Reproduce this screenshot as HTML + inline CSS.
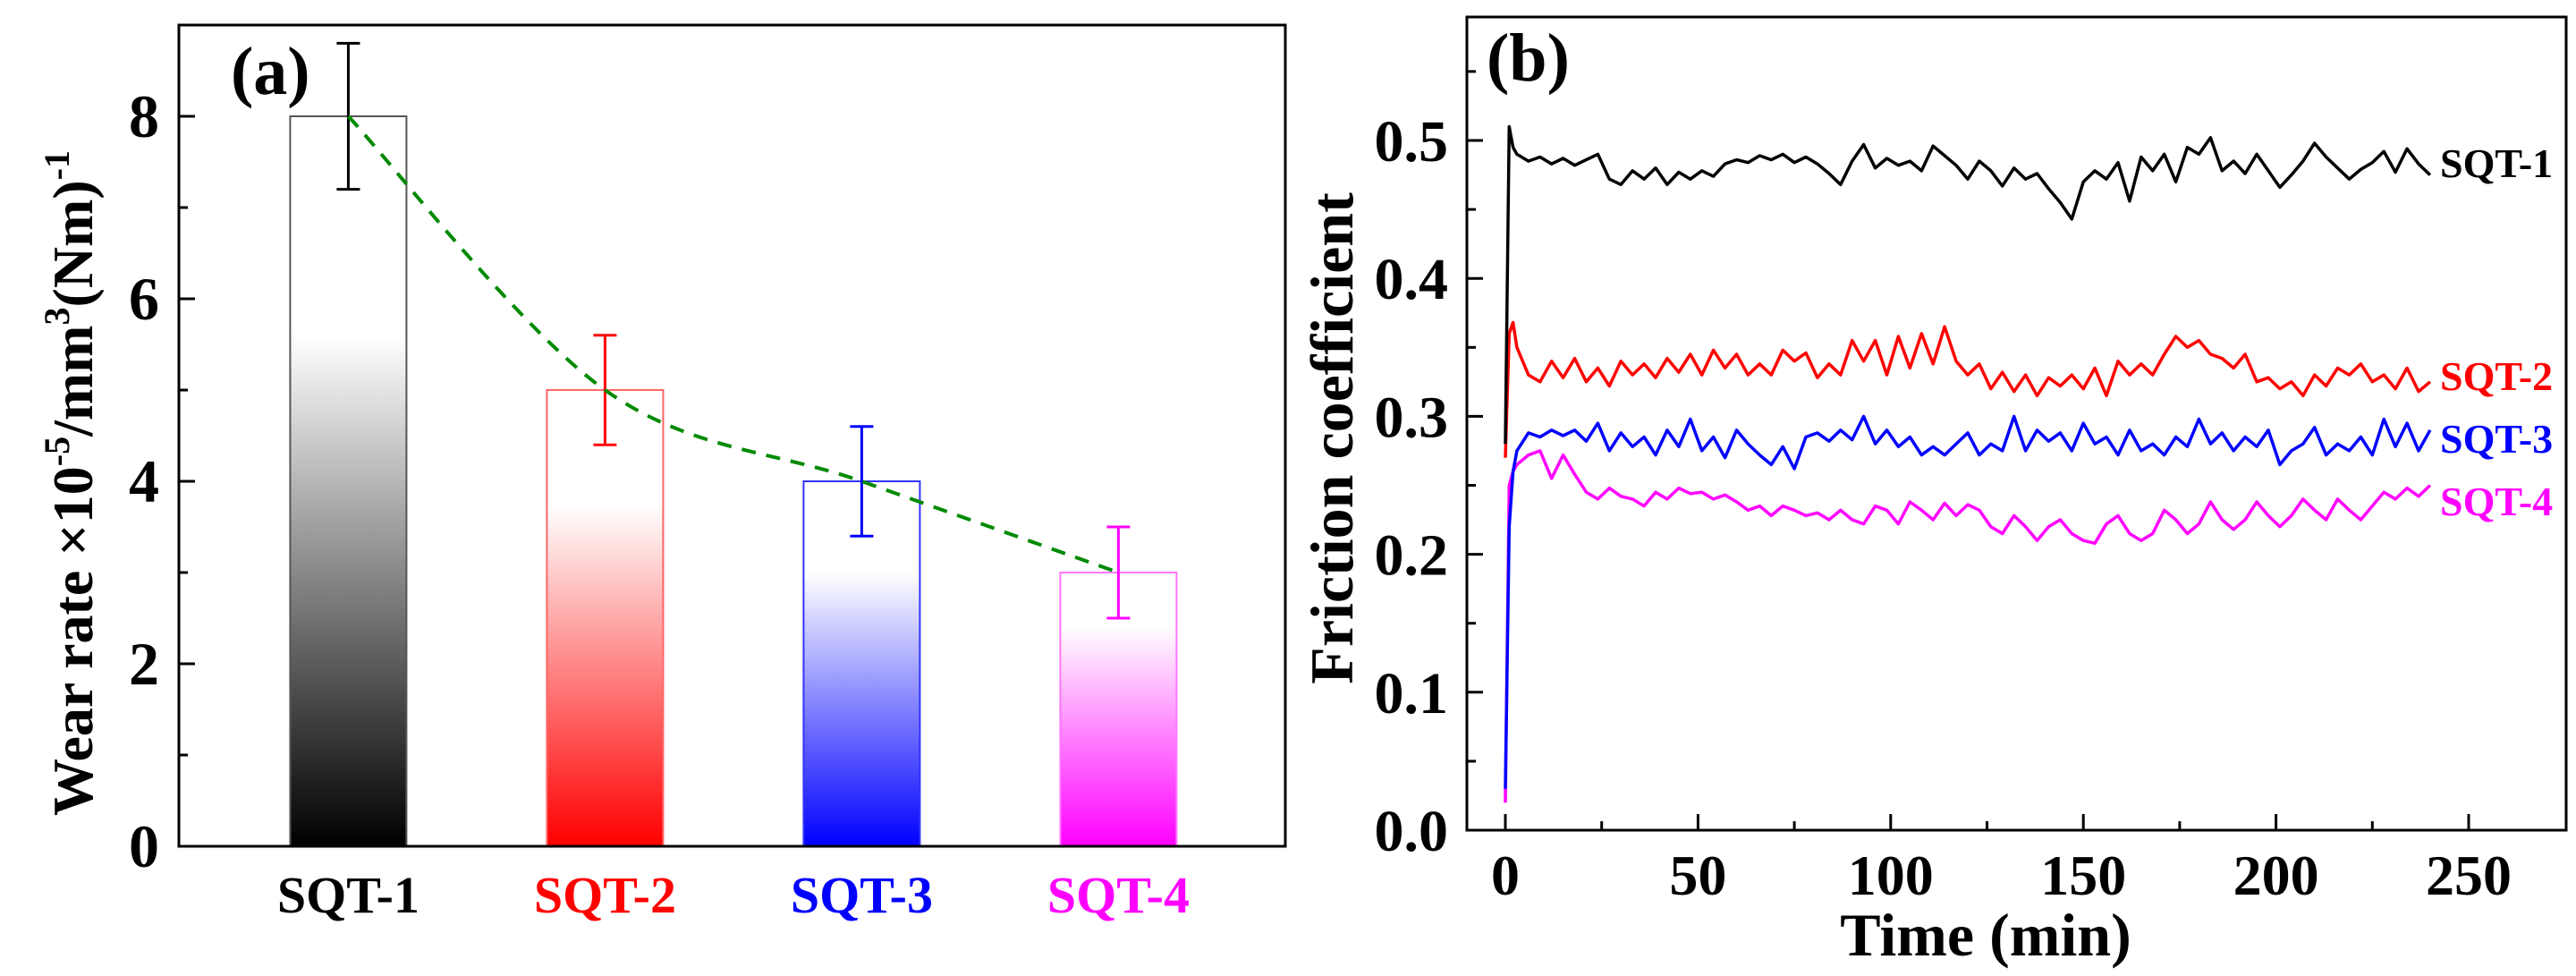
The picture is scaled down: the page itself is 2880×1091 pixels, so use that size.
<!DOCTYPE html>
<html><head><meta charset="utf-8"><style>
html,body{margin:0;padding:0;background:#fff;}
svg{display:block;font-family:"Liberation Serif",serif;font-weight:bold;}
</style></head><body>
<svg id="fig" width="2880" height="1091" viewBox="0 0 2880 1091" xmlns="http://www.w3.org/2000/svg">
<defs>
<linearGradient id="g1" x1="0" y1="1" x2="0" y2="0"><stop offset="0" stop-color="#000"/><stop offset="0.7" stop-color="#fff"/><stop offset="1" stop-color="#fff"/></linearGradient>
<linearGradient id="g2" x1="0" y1="1" x2="0" y2="0"><stop offset="0" stop-color="#ff0000"/><stop offset="0.75" stop-color="#fff"/><stop offset="1" stop-color="#fff"/></linearGradient>
<linearGradient id="g3" x1="0" y1="1" x2="0" y2="0"><stop offset="0" stop-color="#0000ff"/><stop offset="0.75" stop-color="#fff"/><stop offset="1" stop-color="#fff"/></linearGradient>
<linearGradient id="g4" x1="0" y1="1" x2="0" y2="0"><stop offset="0" stop-color="#ff00ff"/><stop offset="0.8" stop-color="#fff"/><stop offset="1" stop-color="#fff"/></linearGradient>
</defs>
<g id="pa"></g>
<g id="pb"></g>
</svg>
<script>
// ---- Panel (a) data ----
const categories = ["SQT-1","SQT-2","SQT-3","SQT-4"];
const wearRate = [8.0, 5.0, 4.0, 3.0];
const errUpper = [8.8, 5.6, 4.6, 3.5];
const errLower = [7.2, 4.4, 3.4, 2.5];
const wearTicks = [0, 2, 4, 6, 8];
const wearMinor = [1, 3, 5, 7];
// ---- Panel (b) data ----
const timeVals = [0,1,2,3,6,9,12,15,18,21,24,27,30,33,36,39,42,45,48,51,54,57,60,63,66,69,72,75,78,81,84,87,90,93,96,99,102,105,108,111,114,117,120,123,126,129,132,135,138,141,144,147,150,153,156,159,162,165,168,171,174,177,180,183,186,189,192,195,198,201,204,207,210,213,216,219,222,225,228,231,234,237,240];
const fricSQT1 = [0.28,0.51,0.495,0.49,0.485,0.488,0.483,0.487,0.482,0.486,0.49,0.472,0.468,0.478,0.472,0.48,0.468,0.477,0.472,0.478,0.474,0.483,0.486,0.484,0.489,0.486,0.49,0.484,0.488,0.483,0.476,0.468,0.485,0.497,0.48,0.487,0.482,0.485,0.478,0.496,0.489,0.482,0.472,0.485,0.478,0.467,0.48,0.472,0.476,0.465,0.455,0.443,0.47,0.478,0.472,0.484,0.456,0.488,0.478,0.49,0.47,0.495,0.49,0.502,0.478,0.485,0.476,0.49,0.478,0.466,0.475,0.485,0.498,0.488,0.48,0.472,0.479,0.484,0.492,0.477,0.494,0.483,0.475];
const fricSQT2 = [0.27,0.36,0.368,0.35,0.33,0.325,0.34,0.328,0.342,0.325,0.335,0.322,0.34,0.33,0.338,0.328,0.342,0.332,0.345,0.33,0.348,0.335,0.345,0.33,0.338,0.33,0.348,0.34,0.346,0.328,0.338,0.33,0.355,0.34,0.355,0.33,0.358,0.335,0.36,0.338,0.365,0.34,0.33,0.338,0.32,0.332,0.318,0.33,0.315,0.328,0.322,0.33,0.32,0.335,0.315,0.34,0.33,0.338,0.33,0.345,0.358,0.35,0.355,0.345,0.342,0.335,0.345,0.325,0.328,0.32,0.325,0.315,0.33,0.322,0.335,0.33,0.338,0.325,0.33,0.32,0.335,0.318,0.325];
const fricSQT3 = [0.03,0.22,0.26,0.275,0.288,0.285,0.29,0.286,0.29,0.282,0.295,0.275,0.288,0.278,0.285,0.272,0.29,0.278,0.298,0.275,0.285,0.27,0.29,0.28,0.272,0.265,0.278,0.262,0.285,0.288,0.282,0.29,0.283,0.3,0.28,0.29,0.278,0.285,0.272,0.278,0.272,0.28,0.288,0.272,0.28,0.275,0.3,0.275,0.29,0.282,0.288,0.275,0.295,0.28,0.285,0.272,0.29,0.275,0.28,0.272,0.285,0.278,0.298,0.28,0.288,0.275,0.285,0.278,0.29,0.265,0.275,0.28,0.292,0.272,0.28,0.275,0.285,0.272,0.298,0.278,0.295,0.275,0.29];
const fricSQT4 = [0.02,0.25,0.26,0.265,0.272,0.275,0.255,0.272,0.258,0.245,0.24,0.248,0.242,0.24,0.235,0.245,0.24,0.248,0.244,0.245,0.24,0.243,0.238,0.232,0.235,0.228,0.235,0.232,0.228,0.23,0.225,0.232,0.225,0.222,0.235,0.232,0.222,0.238,0.232,0.225,0.237,0.228,0.236,0.232,0.22,0.215,0.228,0.22,0.21,0.22,0.225,0.215,0.21,0.208,0.222,0.228,0.215,0.21,0.215,0.232,0.225,0.215,0.222,0.238,0.225,0.218,0.225,0.238,0.228,0.22,0.228,0.24,0.232,0.225,0.24,0.232,0.225,0.235,0.245,0.24,0.248,0.242,0.25];
const timeTicks = [0, 50, 100, 150, 200, 250];
const timeMinor = [25, 75, 125, 175, 225];
const fricTicks = [0.0, 0.1, 0.2, 0.3, 0.4, 0.5];
const fricMinor = [0.05, 0.15, 0.25, 0.35, 0.45, 0.55];

const NS = "http://www.w3.org/2000/svg";
function mk(parent, tag, attrs, text){
  const e = document.createElementNS(NS, tag);
  for (const k in attrs) e.setAttribute(k, attrs[k]);
  if (text !== undefined) e.textContent = text;
  parent.appendChild(e);
  return e;
}

// ===== Panel (a) =====
const pa = document.getElementById('pa');
const A = {l:200, r:1437, t:28, b:946};
const ax = v => A.l + (v - 0.34) * 287;
const ay = v => A.b - v * 102;
const colors = ["#000000","#ff0000","#0000ff","#ff00ff"];
const strokes = ["#555555","#ff6666","#3333ff","#ff77ff"];
const barW = 130;
categories.forEach((c, i) => {
  const cx = ax(i + 1);
  const bar = mk(pa, 'rect', {x: cx - barW/2, y: ay(wearRate[i]), width: barW, height: ay(0) - ay(wearRate[i]), fill: `url(#g${i+1})`, stroke: strokes[i], 'stroke-width': 2});
  
  
  const eb = mk(pa, 'path', {d: `M${cx},${ay(errUpper[i])}V${ay(errLower[i])}M${cx-13},${ay(errUpper[i])}H${cx+13}M${cx-13},${ay(errLower[i])}H${cx+13}`, stroke: colors[i], 'stroke-width': 3, fill: 'none'});
  
  
  const lb = mk(pa, 'text', {x: cx, y: 1020, 'text-anchor': 'middle', 'font-size': 58, fill: colors[i]}, c);
  
  
});
// trend curve (Catmull-Rom through bar tops)
(function(){
  const pts = wearRate.map((v, i) => [ax(i + 1), ay(v)]);
  let d = `M${pts[0][0]},${pts[0][1]}`;
  for (let i = 0; i < pts.length - 1; i++) {
    const p0 = pts[Math.max(0, i-1)], p1 = pts[i], p2 = pts[i+1], p3 = pts[Math.min(pts.length-1, i+2)];
    const c1 = [p1[0] + (p2[0]-p0[0])/6, p1[1] + (p2[1]-p0[1])/6];
    const c2 = [p2[0] - (p3[0]-p1[0])/6, p2[1] - (p3[1]-p1[1])/6];
    d += `C${c1[0]},${c1[1]} ${c2[0]},${c2[1]} ${p2[0]},${p2[1]}`;
  }
  const tr = mk(pa, 'path', {d: d, stroke: '#008a00', 'stroke-width': 4, 'stroke-dasharray': '16,12', fill: 'none'});
  
  
})();
// frame
const fa = mk(pa, 'rect', {x: A.l, y: A.t, width: A.r - A.l, height: A.b - A.t, fill: 'none', stroke: '#000', 'stroke-width': 3});


wearTicks.forEach(v => {
  mk(pa, 'line', {x1: A.l, x2: A.l + 18, y1: ay(v), y2: ay(v), stroke: '#000', 'stroke-width': 3});
  const t = mk(pa, 'text', {x: 178, y: ay(v) + 23, 'text-anchor': 'end', 'font-size': 68}, String(v));
  
  
});
wearMinor.forEach(v => mk(pa, 'line', {x1: A.l, x2: A.l + 10, y1: ay(v), y2: ay(v), stroke: '#000', 'stroke-width': 3}));
const ta = mk(pa, 'text', {x: 258, y: 105, 'font-size': 76}, '(a)');


const yta = mk(pa, 'text', {transform: 'translate(103,540) rotate(-90)', 'text-anchor': 'middle', 'font-size': 64});


yta.innerHTML = 'Wear rate ×10<tspan dy="-26" font-size="40">-5</tspan><tspan dy="26">/mm</tspan><tspan dy="-26" font-size="40">3</tspan><tspan dy="26">(Nm)</tspan><tspan dy="-26" font-size="40">-1</tspan>';

// ===== Panel (b) =====
const pb = document.getElementById('pb');
const B = {l:1640, r:2869, t:19, b:928};
const bx = v => 1683 + v * 4.308;
const by = v => B.b - v * 1542;
const series = [
  {name: 'SQT-1', vals: fricSQT1, color: '#000000', ly: 198},
  {name: 'SQT-2', vals: fricSQT2, color: '#ff0000', ly: 436},
  {name: 'SQT-3', vals: fricSQT3, color: '#0000ff', ly: 506},
  {name: 'SQT-4', vals: fricSQT4, color: '#ff00ff', ly: 576}
];
series.slice().reverse().forEach(s => {
  const d = s.vals.map((v, i) => (i ? 'L' : 'M') + bx(timeVals[i]).toFixed(1) + ',' + by(v).toFixed(1)).join('');
  const p = mk(pb, 'path', {d: d, stroke: s.color, 'stroke-width': 3.5, fill: 'none', 'stroke-linejoin': 'round'});
  
  
});
series.forEach(s => {
  const t = mk(pb, 'text', {x: 2728, y: s.ly, 'font-size': 46, fill: s.color}, s.name);
  
  
});
const fb = mk(pb, 'rect', {x: B.l, y: B.t, width: B.r - B.l, height: B.b - B.t, fill: 'none', stroke: '#000', 'stroke-width': 3});


timeTicks.forEach(v => {
  mk(pb, 'line', {x1: bx(v), x2: bx(v), y1: B.b, y2: B.b - 18, stroke: '#000', 'stroke-width': 3});
  const t = mk(pb, 'text', {x: bx(v), y: 1000, 'text-anchor': 'middle', 'font-size': 64}, String(v));
  
  
});
timeMinor.forEach(v => mk(pb, 'line', {x1: bx(v), x2: bx(v), y1: B.b, y2: B.b - 10, stroke: '#000', 'stroke-width': 3}));
fricTicks.forEach(v => {
  mk(pb, 'line', {x1: B.l, x2: B.l + 18, y1: by(v), y2: by(v), stroke: '#000', 'stroke-width': 3});
  const t = mk(pb, 'text', {x: 1619, y: by(v) + 23, 'text-anchor': 'end', 'font-size': 66}, v.toFixed(1));
  
  
});
fricMinor.forEach(v => mk(pb, 'line', {x1: B.l, x2: B.l + 10, y1: by(v), y2: by(v), stroke: '#000', 'stroke-width': 3}));
const tb = mk(pb, 'text', {x: 1662, y: 90, 'font-size': 76}, '(b)');


const xtb = mk(pb, 'text', {x: 2220, y: 1068, 'text-anchor': 'middle', 'font-size': 68}, 'Time (min)');


const ytb = mk(pb, 'text', {transform: 'translate(1512,490) rotate(-90)', 'text-anchor': 'middle', 'font-size': 68}, 'Friction coefficient');


</script>
</body></html>
